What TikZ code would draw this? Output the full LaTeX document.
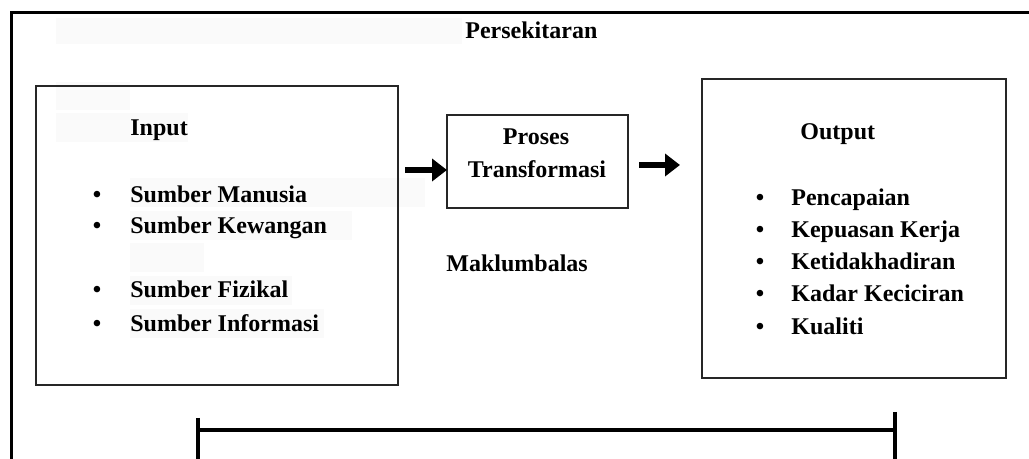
\documentclass[tikz,border=0pt]{standalone}
\usepackage{fontspec}
\setmainfont{Liberation Serif}
\usetikzlibrary{arrows.meta}
\newcommand{\twelvebf}{\fontsize{12}{14}\selectfont\bfseries}
\begin{document}
\begin{tikzpicture}[x=0.5pt,y=-0.5pt,
  frameline/.style={line width=1.5pt,black},
  boxnode/.style={draw=black!85,line width=0.8pt,inner sep=0pt},
  lbl/.style={font=\twelvebf,inner sep=0pt,anchor=base west},
  bul/.style={font=\twelvebf,inner sep=0pt,anchor=base},
  shade/.style={fill=black!2,draw=none},
  fatarrow/.style={line width=3pt,-{Triangle[length=7.5pt,width=11pt]}},
  barline/.style={line width=2.4pt,black},
  tickline/.style={line width=1.6pt,black}]
\useasboundingbox (0,0) rectangle (1029,459);
\fill[white] (0,0) rectangle (1029,459);
% faint highlight patches
\path[shade] (56,18) rectangle (462,44);
\path[shade] (56,82) rectangle (130,110);
\path[shade] (56,113) rectangle (188,142);
\path[shade] (130,178) rectangle (425,207);
\path[shade] (130,211) rectangle (352,240);
\path[shade] (130,243) rectangle (204,272);
\path[shade] (130,276) rectangle (292,305);
\path[shade] (130,309) rectangle (324,338);
% outer frame
\coordinate (ftl) at (11,13);
\coordinate (ftr) at (1029,13);
\coordinate (fbl) at (11,459);
\draw[frameline] (ftr) -- (ftl) -- (fbl);
\node[lbl] (env) at (465,39) {Persekitaran};
% boxes
\node[boxnode,minimum width=181pt,minimum height=149.5pt] (inbox) at (217,235.5) {};
\node[boxnode,minimum width=90.5pt,minimum height=46.5pt] (proses) at (537.5,161.5) {};
\node[boxnode,minimum width=152pt,minimum height=149.5pt] (outbox) at (854,228.5) {};
% input texts
\node[lbl] (intitle) at (130,136) {Input};
\node[bul] (b1) at (97,203) {•};
\node[lbl] (i1) at (130,203) {Sumber Manusia};
\node[bul] (b2) at (97,234) {•};
\node[lbl] (i2) at (130,234) {Sumber Kewangan};
\node[bul] (b3) at (97,298) {•};
\node[lbl] (i3) at (130,298) {Sumber Fizikal};
\node[bul] (b4) at (97,332) {•};
\node[lbl] (i4) at (130,332) {Sumber Informasi};
% process texts
\node[font=\twelvebf,inner sep=0pt,anchor=base] (p1) at (536,145) {Proses};
\node[font=\twelvebf,inner sep=0pt,anchor=base] (p2) at (537,178) {Transformasi};
\node[lbl] (mak) at (446,272) {Maklumbalas};
% output texts
\node[lbl] (outtitle) at (800,140) {Output};
\node[bul] (c1) at (760,206) {•};
\node[lbl] (o1) at (791,206) {Pencapaian};
\node[bul] (c2) at (760,238) {•};
\node[lbl] (o2) at (791,238) {Kepuasan Kerja};
\node[bul] (c3) at (760,270) {•};
\node[lbl] (o3) at (791,270) {Ketidakhadiran};
\node[bul] (c4) at (760,302) {•};
\node[lbl] (o4) at (791,302) {Kadar Keciciran};
\node[bul] (c5) at (760,335) {•};
\node[lbl] (o5) at (791,335) {Kualiti};
% arrows
\coordinate (a1s) at (405,170);
\coordinate (a1e) at (447,170);
\coordinate (a2s) at (639,165);
\coordinate (a2e) at (680,165);
\draw[fatarrow] (a1s) -- (a1e);
\draw[fatarrow] (a2s) -- (a2e);
% bottom feedback bracket
\coordinate (bl) at (198,430);
\coordinate (br) at (895,430);
\coordinate (blt) at (198,418);
\coordinate (blb) at (198,459);
\coordinate (brt) at (895,412);
\coordinate (brb) at (895,459);
\draw[barline] (bl) -- (br);
\draw[tickline] (blt) -- (blb);
\draw[tickline] (brt) -- (brb);
\end{tikzpicture}
\end{document}
